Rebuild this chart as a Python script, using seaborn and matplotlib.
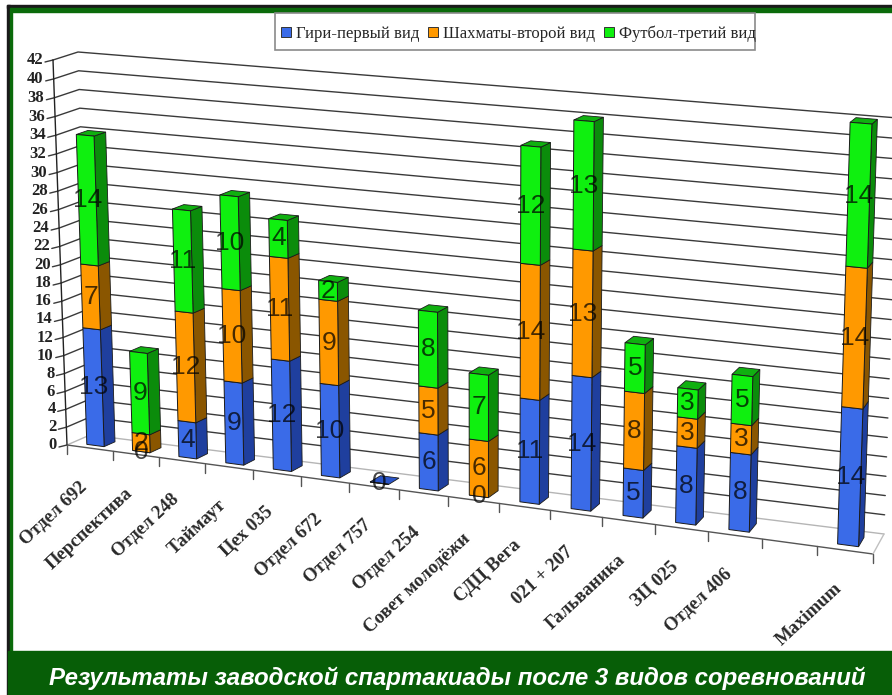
import numpy as np
import pandas as pd
import seaborn as sns
import matplotlib.pyplot as plt
from matplotlib.patches import Patch, Rectangle
from matplotlib.transforms import Transform

categories = ["Отдел 692", "Перспектива", "Отдел 248", "Таймаут", "Цех 035", "Отдел 672",
              "Отдел 757", "Отдел 254", "Совет молодёжи", "СДЦ Вега", "021 + 207",
              "Гальваника", "ЗЦ 025", "Отдел 406", "", "Maximum"]
giri = [13, 0, 4, 9, 12, 10, 0, 6, 0, 11, 14, 5, 8, 8, 0, 14]
shahmaty = [7, 2, 12, 10, 11, 9, 0, 5, 6, 14, 13, 8, 3, 3, 0, 14]
futbol = [14, 9, 11, 10, 4, 2, 0, 8, 7, 12, 13, 5, 3, 5, 0, 14]
series_names = ["Гири-первый вид", "Шахматы-второй вид", "Футбол-третий вид"]
y_ticks = list(range(0, 43, 2))

front_colors = ["#3a6be8", "#ff9900", "#0ff00f"]
side_colors = ["#1f3f9e", "#8a5600", "#0b8c0b"]
top_colors = ["#2a55c8", "#c87a00", "#10b010"]

# corners of the front plane and the back wall, in picture pixels: BL, BR, TL, TR
front_plane = [(67, 445), (873, 554), (53, 60), (887, 128)]
back_plane = [(90, 435), (884, 534), (78, 52), (898, 118)]
n = len(categories)
y_max = 42


def plane_matrix(d):
    src = [(-0.5, 0), (n - 0.5, 0), (-0.5, y_max), (n - 0.5, y_max)]
    dst = [(1 - d) * np.array(a) + d * np.array(b) for a, b in zip(front_plane, back_plane)]
    A, b = [], []
    for (x, y), (u, v) in zip(src, dst):
        A.append([x, y, 1, 0, 0, 0, -u * x, -u * y])
        A.append([0, 0, 0, x, y, 1, -v * x, -v * y])
        b += [u, v]
    return np.append(np.linalg.solve(np.array(A), np.array(b)), 1).reshape(3, 3)


class PlaneTransform(Transform):
    input_dims = 2
    output_dims = 2

    def __init__(self, d):
        super().__init__()
        self.m = plane_matrix(d)

    def transform_non_affine(self, values):
        values = np.asarray(values, dtype=float)
        p = np.c_[values, np.ones(len(values))] @ self.m.T
        return p[:, :2] / p[:, 2:]


def project(x, v, d):
    return PlaneTransform(d).transform_non_affine([[x, v]])[0]


def quad(points, **kws):
    pts = np.array([project(*p) for p in points])
    ax.fill(pts[:, 0], pts[:, 1], **kws)


sns.set_theme(style="white")
fig, ax = plt.subplots(figsize=(8.92, 6.95), dpi=100)
ax.set_position([0, 0, 1, 1])

bar_width = 0.38
d1, d2 = 0.25, 0.72
series = [giri, shahmaty, futbol]
df = pd.DataFrame({"cat": categories, "a": giri, "b": shahmaty, "c": futbol})
bottoms = np.zeros(n)
front_tr = PlaneTransform(d1)
for col, vals, color in zip("abc", series, front_colors):
    before = len(ax.patches)
    sns.barplot(data=df, x="cat", y=col, order=categories, color=color, saturation=1,
                width=bar_width, bottom=bottoms, edgecolor="#1a1a1a", linewidth=0.7,
                errorbar=None, zorder=3, ax=ax)
    new = ax.patches[before:]
    for i, p in enumerate(new):
        p.set_transform(front_tr + ax.transData)
        if categories[i] == "":
            p.set_visible(False)
    bottoms = bottoms + np.array(vals)

ax.set_xlim(0, 892)
ax.set_ylim(695, 0)
ax.set_axis_off()

# walls
for t in y_ticks:
    a, b, c = project(-0.5, t, 0), project(-0.5, t, 1), project(n - 0.5, t, 1)
    col = "#b5b5b5" if t == 0 else "#3a3a3a"
    ax.plot([a[0], b[0], c[0]], [a[1], b[1], c[1]], color=col, lw=1, zorder=1)
    ax.plot([a[0] - 8, a[0]], [a[1] + 2, a[1]], color="#3a3a3a", lw=1, zorder=1)
    ax.text(a[0] - 10, a[1], str(t), ha="right", va="center", fontsize=12,
            fontweight="bold", family="Liberation Serif", color="#222222")

a, b = project(-0.5, 0, 0), project(-0.5, y_max, 0)
ax.plot([a[0], b[0]], [a[1], b[1]], color="#222222", lw=1, zorder=1)
a, b, c = project(-0.5, 0, 0), project(n - 0.5, 0, 0), project(n - 0.5, 0, 1)
ax.plot([a[0], b[0]], [a[1], b[1]], color="#555555", lw=1, zorder=1)
ax.plot([b[0], c[0]], [b[1], c[1]], color="#c0c0c0", lw=1, zorder=1)

# floor ticks and category labels
for i in range(n + 1):
    a = project(i - 0.5, 0, 0)
    ax.plot([a[0], a[0]], [a[1], a[1] + 9], color="#555555", lw=1, zorder=1)
for i, name in enumerate(categories):
    a = project(i, 0, 0)
    ax.text(a[0], a[1] + 30, name, rotation=43, ha="right", va="top", fontsize=13.5,
            fontweight="bold", family="Liberation Serif", color="#2a2a2a")

# sides, tops and value labels of the stacks
for i, name in enumerate(categories):
    if name == "":
        continue
    base = 0
    total = giri[i] + shahmaty[i] + futbol[i]
    for k, vals in enumerate(series):
        v = vals[i]
        top = base + v
        xr = i + bar_width / 2
        xl = i - bar_width / 2
        if v > 0:
            quad([(xr, base, d1), (xr, top, d1), (xr, top, d2), (xr, base, d2)],
                 color=side_colors[k], ec="#1a1a1a", lw=0.6, zorder=2)
        if (top == total and v > 0) or (total == 0 and k == 0):
            quad([(xl, top, d1), (xr, top, d1), (xr, top, d2), (xl, top, d2)],
                 color=top_colors[k], ec="#1a1a1a", lw=0.6, zorder=2.5)
        if total > 0 or k == 0:
            c = project(i, base + v / 2, d1)
            ax.text(c[0], c[1], str(v), ha="center", va="center", fontsize=19,
                    family="Liberation Sans", color="black", alpha=0.72, zorder=5)
        base = top

# legend
ax.add_patch(Rectangle((275, 13), 480, 37, fc="white", ec="#8a8a8a", lw=1.2, zorder=5.5))
handles = [Patch(facecolor=c, edgecolor="#333333", lw=0.7) for c in front_colors]
leg = ax.legend(handles, series_names, ncol=3, loc="center left",
                bbox_to_anchor=(275 / 892, 1 - 33.5 / 695),
                borderaxespad=0, frameon=False, handlelength=0.6, handleheight=0.6,
                handletextpad=0.3, columnspacing=0.5, borderpad=0.38,
                prop={"family": "Liberation Serif", "size": 12})
leg.set_zorder(6)

# frame and caption band
ax.add_patch(Rectangle((7, 5), 885, 3, color="#1a1a1a", zorder=0.2))
ax.add_patch(Rectangle((10, 8), 882, 3.5, color="#0a6a0a", zorder=0.2))
ax.add_patch(Rectangle((7, 5), 3, 690, color="#1a1a1a", zorder=0.2))
ax.add_patch(Rectangle((10, 8), 2, 645, color="#0a6a0a", zorder=0.2))
ax.add_patch(Rectangle((8, 651), 884, 44, color="#075e07", zorder=7))
ax.text(457.5, 678, "Результаты заводской спартакиады после 3 видов соревнований", ha="center",
        va="center", fontsize=17.25, fontweight="bold", fontstyle="italic",
        family="Liberation Sans", color="white", zorder=8)

fig.savefig("out.png", dpi=100)
